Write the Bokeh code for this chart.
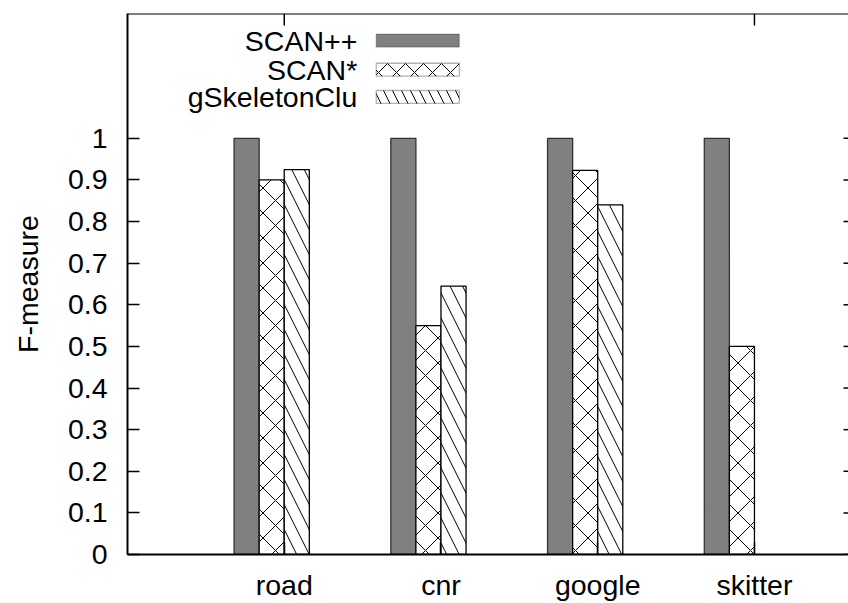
import numpy as np
from bokeh.plotting import figure
from bokeh.models import (Range1d, LinearAxis, FixedTicker, BoxAnnotation, Label,
                          ColumnDataSource, Span)
from bokeh.embed import file_html
from bokeh.resources import INLINE

# ---- data -------------------------------------------------------------
datasets = ["road", "cnr", "google", "skitter"]
series_names = ["SCAN++", "SCAN*", "gSkeletonClu"]
scan_pp = [1.0, 1.0, 1.0, 1.0]
scan_star = [0.90, 0.55, 0.923, 0.50]
gskeleton = [0.925, 0.645, 0.84, float("nan")]   # no result on skitter
y_ticks = [0.0, 0.1, 0.2, 0.3, 0.4, 0.5, 0.6, 0.7, 0.8, 0.9, 1.0]

FONT = "Liberation Sans"
FS = "28.5px"

pos = np.arange(len(datasets))
bar_w = 0.16
offsets = [-1.5 * bar_w, -0.5 * bar_w, 0.5 * bar_w]
styles = [
    dict(fill_color="#808080", hatch_pattern=" ", line_color="#333333"),
    dict(fill_color="white", hatch_pattern="x", line_color="black"),
    dict(fill_color="white", hatch_pattern="\\", line_color="black"),
]

X_LO, X_HI = -1.0, 3.60
Y_LO, Y_HI = 0.0, 1.3

p = figure(width=848, height=603, output_backend="svg", toolbar_location=None,
           x_range=Range1d(X_LO, X_HI), y_range=Range1d(Y_LO, Y_HI),
           min_border_left=127, min_border_right=0, min_border_top=13,
           min_border_bottom=48, x_axis_type=None, y_axis_type=None)
p.outline_line_color = None
p.xgrid.visible = False
p.ygrid.visible = False

for vals, off, st in zip([scan_pp, scan_star, gskeleton], offsets, styles):
    src = ColumnDataSource(dict(x=pos + off, top=np.array(vals, dtype=float)))
    p.vbar(x="x", top="top", bottom=0, width=bar_w, source=src,
           fill_color=st["fill_color"], line_color=st["line_color"], line_width=1.3,
           hatch_pattern=st["hatch_pattern"], hatch_scale=25, hatch_weight=1,
           hatch_color="black")

# ---- axes -------------------------------------------------------------
def style_axis(ax):
    ax.axis_line_width = 2
    ax.major_tick_line_width = 1.5
    ax.minor_tick_line_color = None
    ax.major_label_text_font = FONT
    ax.major_label_text_font_size = FS
    ax.major_label_text_color = "black"

yl = LinearAxis(ticker=FixedTicker(ticks=y_ticks))
style_axis(yl)
yl.major_tick_in = 12
yl.major_tick_out = 0
yl.major_label_standoff = 20
yl.major_label_overrides = {0: "0", 1: "1"}
yl.axis_label = "F-measure"
yl.axis_label_text_font = FONT
yl.axis_label_text_font_size = FS
yl.axis_label_text_font_style = "normal"
yl.axis_label_text_color = "black"
yl.axis_label_standoff = 21
p.add_layout(yl, "left")

xb = LinearAxis(ticker=FixedTicker(ticks=list(pos)))
style_axis(xb)
xb.major_tick_in = 12
xb.major_tick_out = 0
xb.major_label_standoff = 14
xb.major_label_overrides = {int(i): n for i, n in zip(pos, datasets)}
p.add_layout(xb, "below")

# top border line with mirrored ticks, and short mirrored ticks on the right edge
p.add_layout(Span(location=Y_HI, dimension="width", line_color="black", line_width=2))
top_x = [float(pos[0]), float(pos[-1])]
p.ray(x=top_x, y=[Y_HI] * len(top_x), length=12, length_units="screen",
      angle=-np.pi / 2, line_color="black", line_width=1.5)
p.ray(x=[X_HI] * len(y_ticks), y=y_ticks, length=5, length_units="screen",
      angle=np.pi, line_color="black", line_width=1.5)

# ---- key (label on the left, sample on the right) -------------------------
key_rows = [1.235, 1.165, 1.0995]
for name, st, yc in zip(series_names, styles, key_rows):
    p.add_layout(BoxAnnotation(left=0.587, right=1.117, bottom=yc - 0.0155, top=yc + 0.0155,
                               fill_color=st["fill_color"], fill_alpha=1.0,
                               line_color=st["line_color"], line_width=1.3,
                               hatch_pattern=st["hatch_pattern"], hatch_scale=18,
                               hatch_weight=1, hatch_color="black", level="overlay"))
    p.add_layout(Label(x=0.466, y=yc, text=name, text_align="right", text_baseline="middle",
                       text_font=FONT, text_font_size=FS, text_color="black"))

open("out.html", "w").write(file_html(p, INLINE))
